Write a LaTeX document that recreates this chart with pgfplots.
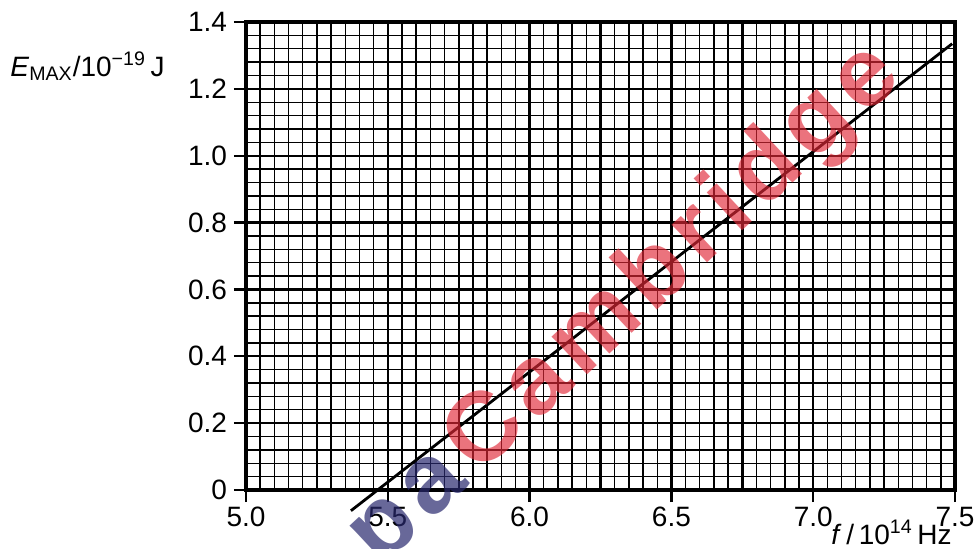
\documentclass[border=0pt]{standalone}
\usepackage{pgfplots}
\pgfplotsset{compat=1.18}
\usepackage{fontspec}
\setmainfont{Liberation Sans}
\newfontfamily\wmfont[LetterSpace=9]{Liberation Sans}
\definecolor{wmred}{RGB}{225,40,55}
\definecolor{wmblue}{RGB}{40,40,110}
\begin{document}
\begin{tikzpicture}
\useasboundingbox (0,0) rectangle (489pt,274pt);
\begin{axis}[
  at={(123pt,29pt)}, anchor=south west,
  scale only axis, width=354.5pt, height=234pt,
  xmin=5, xmax=7.5, ymin=0, ymax=1.4,
  xtick={5,5.5,6,6.5,7,7.5},
  xticklabels={5.0,5.5,6.0,6.5,7.0,7.5},
  ytick={0,0.2,0.4,0.6,0.8,1.0,1.2,1.4},
  yticklabels={0,0.2,0.4,0.6,0.8,1.0,1.2,1.4},
  minor x tick num=9, minor y tick num=4,
  grid=both,
  extra x ticks={5.25,5.75,6.25,6.75,7.25},
  extra x tick labels={},
  extra x tick style={grid=major, major tick length=0pt},
  major grid style={black, line width=1.2pt},
  minor grid style={black, line width=0.7pt},
  minor tick length=0pt, major tick length=6pt,
  tick align=outside, tick pos=left,
  axis line style={line width=1.6pt},
  tick style={black, line width=1.2pt},
  tick label style={font=\fontsize{14}{16}\selectfont},
  xticklabel style={yshift=1pt},
  clip=false,
]
\addplot[black, line width=1.4pt] coordinates {(5.37,-0.062) (7.49,1.335)};
\end{axis}
\node[anchor=base west, inner sep=0, font=\fontsize{14}{16}\selectfont] at (5pt,236pt)
  {\textit{E}\textsubscript{MAX}/10\textsuperscript{\char"2212 19}\,J};
\node[anchor=base east, inner sep=0, font=\fontsize{14}{16}\selectfont] at (476pt,2pt)
  {\textit{f}\,/\,10\textsuperscript{14}\,Hz};
\node[rotate=43, anchor=center, inner sep=0, text=wmred, opacity=0.65,
  font=\wmfont\fontsize{49}{54}\selectfont\bfseries] (wm) at (337pt,144pt) {Cambridge};
\node[rotate=43, anchor=base east, inner sep=0, text=wmblue, opacity=0.7,
  font=\wmfont\fontsize{49}{54}\selectfont\bfseries, xshift=-5pt] at (wm.base west) {pa};
\end{tikzpicture}
\end{document}
